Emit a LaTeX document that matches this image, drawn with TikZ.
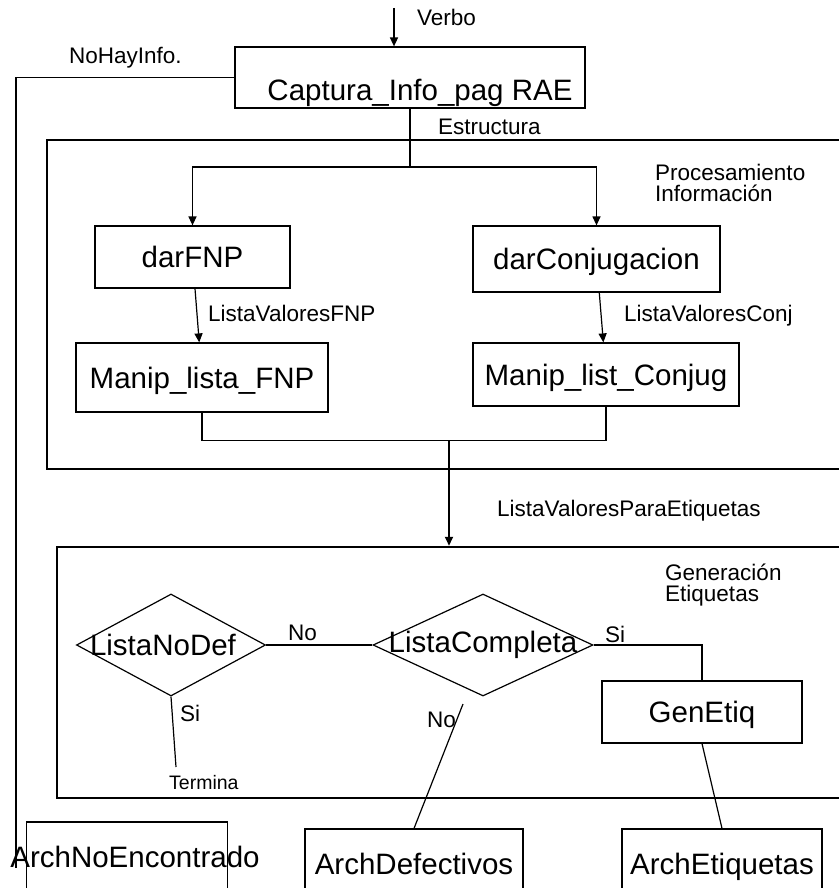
\documentclass[tikz,border=0pt]{standalone}
\usepackage{fontspec}
\setmainfont{Liberation Sans}
\usetikzlibrary{shapes.geometric,arrows.meta}
\newcommand{\grande}{\fontsize{29.5}{34}\selectfont}
\newcommand{\chica}{\fontsize{22.5}{21}\selectfont}

\begin{document}
\begin{tikzpicture}[x=1pt,y=-1pt,>={Triangle[length=9pt,width=8pt]},
    caja/.style={draw,line width=1.2pt,inner sep=2pt,text depth=0pt,font=\grande},
    panel/.style={draw,line width=2.5pt},
    etiq/.style={inner sep=0pt,anchor=west,text depth=0pt,font=\chica},
    decision/.style={draw,diamond,line width=1.2pt,aspect=2.2,inner xsep=-20pt,inner ysep=0pt,font=\grande}]
    \useasboundingbox (0,0) rectangle (838,888);

    % bloques
    \node[panel,minimum width=803pt,minimum height=329pt] (proc) at (448.5,304.5) {};
    \node[panel,minimum width=793pt,minimum height=251pt] (gen) at (453.5,672.5) {};

    \node[caja,minimum width=350pt,minimum height=61pt,text height=46pt] (captura) at (410,77.5) {\hspace*{20pt}Captura\_Info\_pag RAE};
    \node[caja,minimum width=195pt,minimum height=62pt] (darfnp) at (192.5,257) {darFNP};
    \node[caja,minimum width=247pt,minimum height=66pt] (darconj) at (596.5,259) {darConjugacion};
    \node[caja,minimum width=252pt,minimum height=69pt] (manipfnp) at (202,377.5) {Manip\_lista\_FNP};
    \node[caja,minimum width=266pt,minimum height=63pt] (manipconj) at (606,374.5) {Manip\_list\_Conjug};
    \node[decision,minimum width=189pt,minimum height=102pt] (nodef) at (171,645) {ListaNoDef\hspace*{16pt}};
    \node[decision,minimum width=220pt,minimum height=102pt] (comp) at (483,645) {ListaCompleta};
    \node[caja,minimum width=200pt,minimum height=62pt] (genetiq) at (702,712) {GenEtiq};
    \node[caja,inner xsep=-32.5pt,minimum height=70pt] (archnoenc) at (127,857) {\hspace*{16pt}ArchNoEncontrado};
    \node[caja,minimum width=218pt,minimum height=70pt] (archdef) at (414,864) {ArchDefectivos};
    \node[caja,minimum width=200pt,minimum height=70pt] (archetiq) at (722,864) {ArchEtiquetas};

    % textos
    \node[etiq] (lverbo) at (417,17) {Verbo};
    \node[etiq] (lnohay) at (69,55) {NoHayInfo.};
    \node[etiq] (lestruc) at (438,127) {Estructura};
    \node[etiq,align=left] (lproc) at (655,183) {Procesamiento\\Información};
    \node[etiq] (lfnp) at (208,313) {ListaValoresFNP};
    \node[etiq] (lconj) at (624,313) {ListaValoresConj};
    \node[etiq] (lpara) at (497,508) {ListaValoresParaEtiquetas};
    \node[etiq,align=left] (lgen) at (665,583) {Generación\\Etiquetas};
    \node[etiq] (lno1) at (288,633) {No};
    \node[etiq] (lsi1) at (605,634) {Si};
    \node[etiq] (lsi2) at (180,713) {Si};
    \node[etiq] (lno2) at (427,720) {No};
    \node[etiq,font=\fontsize{19.5}{23}\selectfont] (ltermina) at (169,782) {Termina};

    % conexiones
    \coordinate (entrada) at (394,8);
    \coordinate (noenc) at (16,868);
    \coordinate (rama) at (410,167);
    \coordinate (junta) at (449,440);
    \coordinate (fin) at (176,767);
    \coordinate (nosale) at (463,704);
    \draw[->,line width=1.5pt] (entrada) -- (entrada |- captura.north);
    \draw[line width=1.2pt] (captura.west) -| (noenc);
    \draw[line width=1.2pt] (captura.south) -- (rama);
    \draw[->,line width=1.2pt] (rama) -| (darfnp.north);
    \draw[->,line width=1.2pt] (rama) -| (darconj.north);
    \draw[->,line width=1.2pt] (darfnp) -- (manipfnp);
    \draw[->,line width=1.2pt] (darconj) -- (manipconj);
    \draw[line width=1.2pt] (manipfnp.south) -- ++(0,28) -| (manipconj.south);
    \draw[->,line width=2pt] (junta) -- (junta |- gen.north);
    \draw[line width=1.2pt] (nodef.east) -- (comp.west);
    \draw[line width=1.2pt] (comp.east) -| (genetiq.north);
    \draw[line width=1.2pt] (genetiq.south) -- (archetiq.north);
    \draw[line width=1.2pt] (nodef.south) -- (fin);
    \draw[line width=1.2pt] (nosale) -- (archdef.north);
\end{tikzpicture}
\end{document}
